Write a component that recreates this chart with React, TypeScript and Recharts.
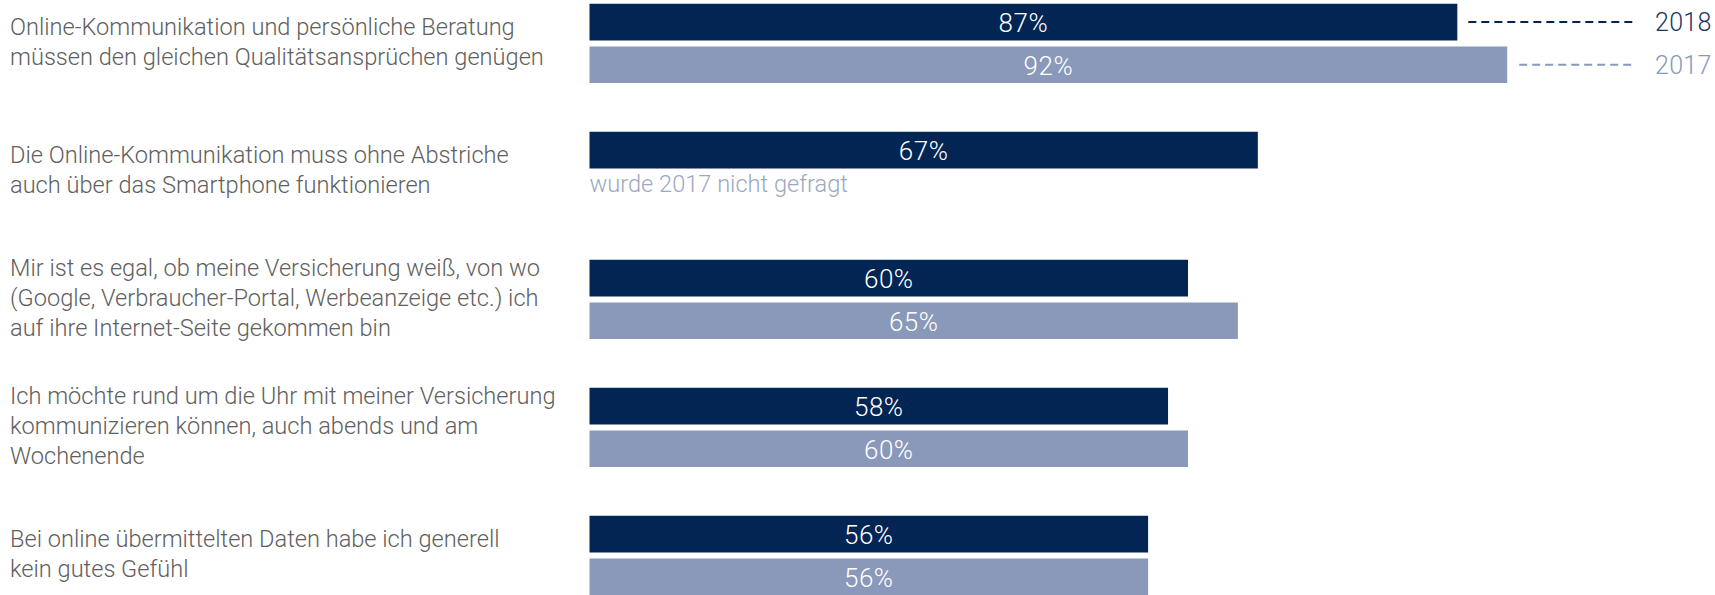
import React from 'react';
import { BarChart, Bar, XAxis, YAxis, LabelList } from 'recharts';

const questions = [
  'Online-Kommunikation und persönliche Beratung\nmüssen den gleichen Qualitätsansprüchen genügen',
  'Die Online-Kommunikation muss ohne Abstriche\nauch über das Smartphone funktionieren',
  'Mir ist es egal, ob meine Versicherung weiß, von wo\n(Google, Verbraucher-Portal, Werbeanzeige etc.) ich\nauf ihre Internet-Seite gekommen bin',
  'Ich möchte rund um die Uhr mit meiner Versicherung\nkommunizieren können, auch abends und am\nWochenende',
  'Bei online übermittelten Daten habe ich generell\nkein gutes Gefühl',
];
const share2018 = [87, 67, 60, 58, 56];
const share2017: Array<number | null> = [92, null, 65, 60, 56];
const seriesNames = ['2018', '2017'];
const notAskedNote = 'wurde 2017 nicht gefragt';

const data = questions.map((question, i) => ({
  question,
  y2018: share2018[i],
  y2017: share2017[i],
}));

const COLOR_2018 = '#022554';
const COLOR_2017 = '#8a98b9';
const TEXT_GRAY = '#606060';
const NOTE_COLOR = '#9ba8c4';
const FONT = 'Roboto, "Open Sans", sans-serif';

const WIDTH = 1715;
const HEIGHT = 595;
const AXIS_WIDTH = 589.5;
const LABEL_X = 10;
const LINE_H = 30;
const LEGEND_LINE_END = 1634;
const LEGEND_TEXT_X = 1655;

const QuestionTick = (props: any) => {
  const { y, payload } = props;
  const lines = String(payload.value).split('\n');
  return (
    <text fill={TEXT_GRAY} fontSize={23.6} fontWeight={300} fontFamily={FONT}>
      {lines.map((line, i) => (
        <tspan key={i} x={LABEL_X} y={y + (i - (lines.length - 1) / 2) * LINE_H + 6}>
          {line}
        </tspan>
      ))}
    </text>
  );
};

const makeLabel = (series: number, color: string) => (props: any) => {
  const vb = props.viewBox ?? props;
  const x = Number(props.x ?? vb.x);
  const y = Number(props.y ?? vb.y);
  const w = Number(props.width ?? vb.width);
  const h = Number(props.height ?? vb.height);
  const { value, index } = props;
  if (value == null || Number.isNaN(x)) return null;
  const cy = y + h / 2;
  return (
    <g>
      <text
        x={x + w / 2}
        y={cy + 10}
        textAnchor="middle"
        fill="#ffffff"
        fontSize={26}
        fontWeight={300}
        fontFamily={FONT}
        letterSpacing={0.5}
      >
        {`${value}%`}
      </text>
      {series === 0 && share2017[index] == null && (
        <text
          x={x}
          y={y + h * 2 + 6 - h / 2 - 1}
          fill={NOTE_COLOR}
          fontSize={23.6}
          fontWeight={300}
          fontFamily={FONT}
        >
          {notAskedNote}
        </text>
      )}
      {index === 0 && (
        <g>
          <line
            x1={x + w + (series === 0 ? 11 : 12)}
            x2={LEGEND_LINE_END}
            y1={cy}
            y2={cy}
            stroke={color}
            strokeWidth={2}
            strokeDasharray="8 5"
          />
          <text
            x={LEGEND_TEXT_X}
            y={cy + 9}
            fill={series === 0 ? '#1c3662' : COLOR_2017}
            fontSize={25}
            fontWeight={300}
            fontFamily={FONT}
            letterSpacing={0.3}
          >
            {seriesNames[series]}
          </text>
        </g>
      )}
    </g>
  );
};

export default function App() {
  return (
    <div style={{ position: 'absolute', left: 0, top: 0, width: WIDTH, height: HEIGHT, overflow: 'hidden', background: '#fff' }}>
      <BarChart
        width={WIDTH}
        height={HEIGHT}
        data={data}
        layout="vertical"
        margin={{ top: -20.3, right: 128, bottom: -24.7, left: 0 }}
        barSize={36.7}
        barGap={6}
      >
        <XAxis type="number" domain={[0, 100]} hide />
        <YAxis
          type="category"
          dataKey="question"
          width={AXIS_WIDTH}
          tickLine={false}
          axisLine={false}
          tick={<QuestionTick />}
          interval={0}
        />
        <Bar dataKey="y2018" name={seriesNames[0]} fill={COLOR_2018} isAnimationActive={false}>
          <LabelList dataKey="y2018" content={makeLabel(0, COLOR_2018)} />
        </Bar>
        <Bar dataKey="y2017" name={seriesNames[1]} fill={COLOR_2017} isAnimationActive={false}>
          <LabelList dataKey="y2017" content={makeLabel(1, COLOR_2017)} />
        </Bar>
      </BarChart>
    </div>
  );
}
